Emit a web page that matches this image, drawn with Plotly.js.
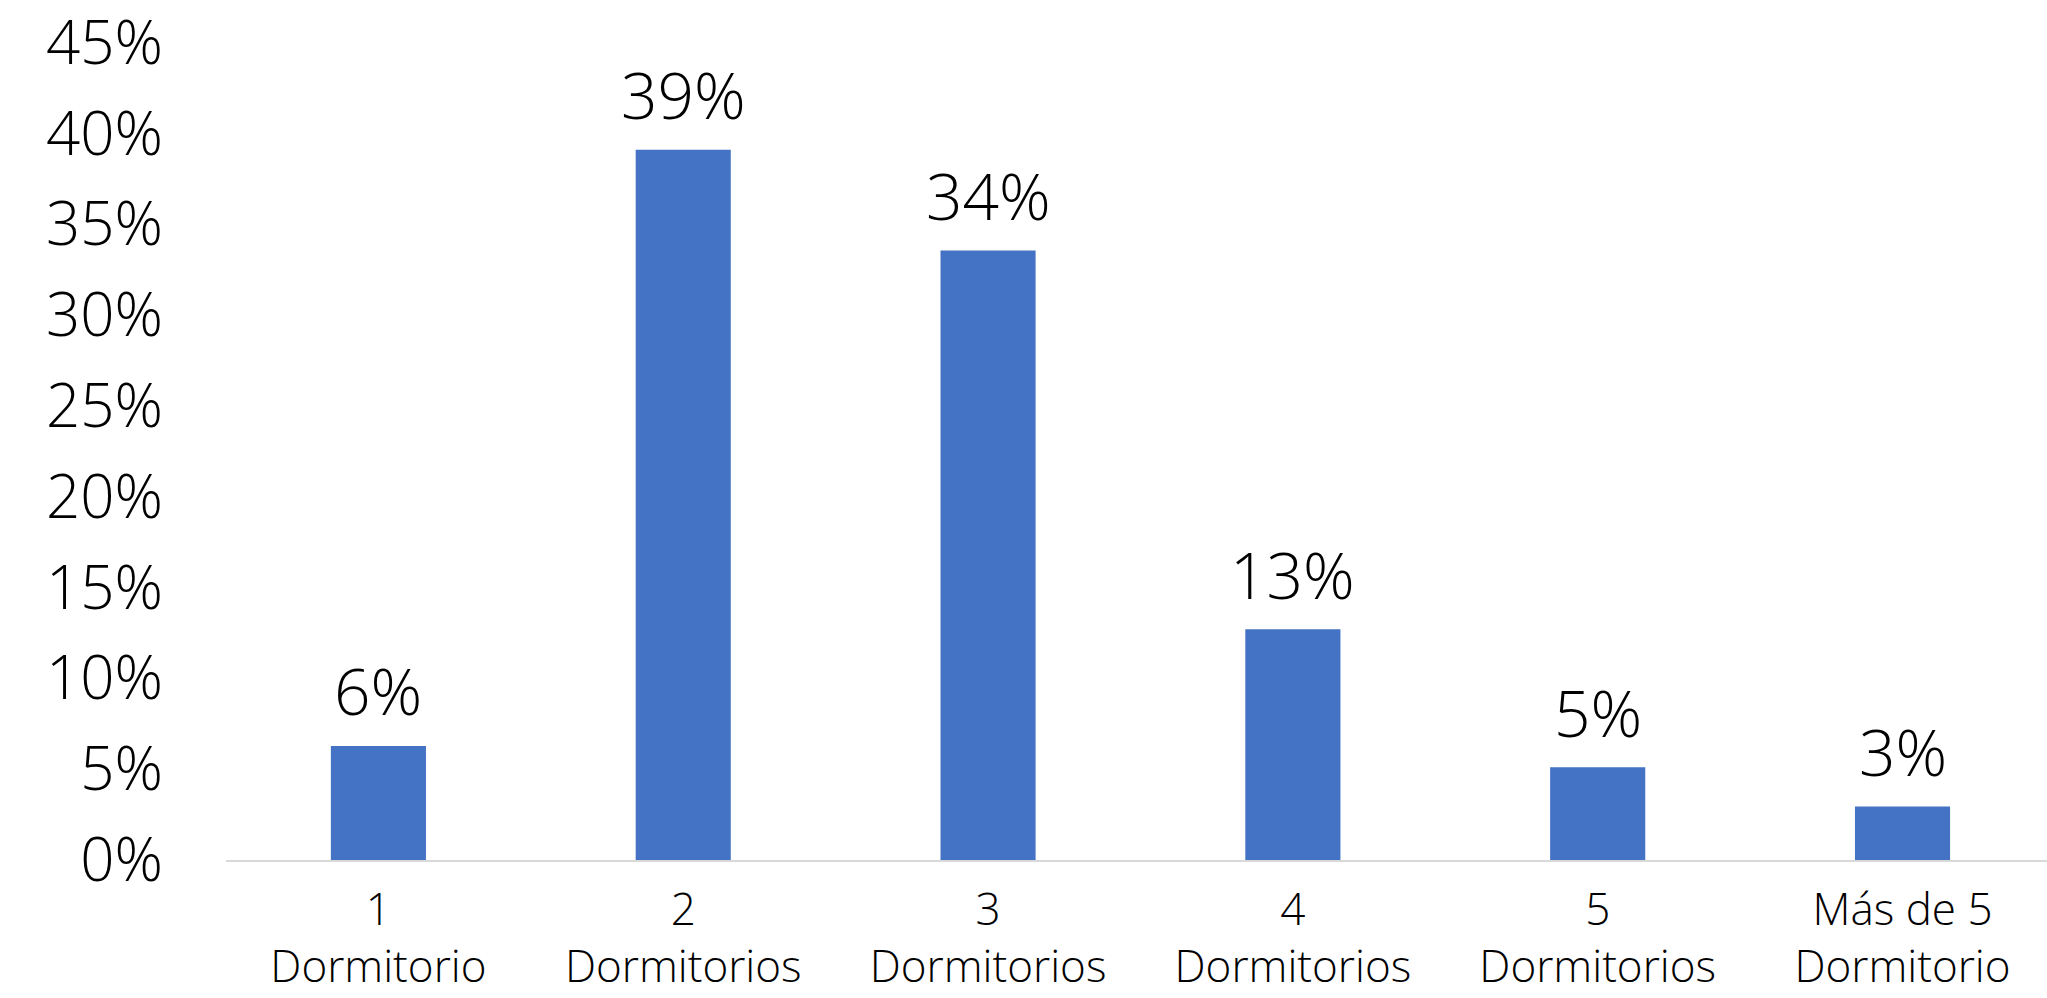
<!DOCTYPE html>
<html>
<head>
<meta charset="utf-8">
<script src="https://cdn.plot.ly/plotly-3.0.1.min.js"></script>
<style>html,body{margin:0;padding:0;background:#fff;}#chart{width:2047px;height:998px;}</style>
</head>
<body>
<div id="chart"></div>
<script>
const categories = ["1<br>Dormitorio", "2<br>Dormitorios", "3<br>Dormitorios", "4<br>Dormitorios", "5<br>Dormitorios", "Más de 5<br>Dormitorio"];
const values = [6.28, 39.12, 33.57, 12.71, 5.11, 2.94];
const valueLabels = ["6%", "39%", "34%", "13%", "5%", "3%"];
const yTickVals = [0, 5, 10, 15, 20, 25, 30, 35, 40, 45];
const yTickText = ["0%", "5%", "10%", "15%", "20%", "25%", "30%", "35%", "40%", "45%"];

const FONT = "Open Sans, Lato, sans-serif";

const trace = {
  type: "bar",
  x: categories.map((c, i) => i),
  y: values,
  marker: {color: "#4472C4"},
  width: 0.312,
  hoverinfo: "skip",
  cliponaxis: false
};

const annotations = values.map((v, i) => ({
  x: i, y: v, xref: "x", yref: "y",
  text: valueLabels[i], showarrow: false,
  yanchor: "middle", yshift: 55,
  font: {family: FONT, size: 64, color: "#000", weight: 300}
}));

const layout = {
  width: 2047, height: 998,
  margin: {l: 226, r: 0, t: 42, b: 138, pad: 0},
  paper_bgcolor: "#fff", plot_bgcolor: "#fff",
  showlegend: false,
  xaxis: {
    range: [-0.5, 5.474],
    tickvals: categories.map((c, i) => i),
    ticktext: categories,
    showgrid: false, zeroline: false,
    showline: true, linecolor: "#d9d9d9", linewidth: 2,
    ticks: "", ticklabelstandoff: 10,
    ticklabeloverflow: "allow",
    tickfont: {family: FONT, size: 44, color: "#000", weight: 300},
    fixedrange: true
  },
  yaxis: {
    range: [0, 45.05],
    tickvals: yTickVals, ticktext: yTickText,
    showgrid: false, zeroline: false, showline: false,
    ticks: "", ticklabelstandoff: 62,
    ticklabeloverflow: "allow",
    tickfont: {family: FONT, size: 60, color: "#000", weight: 300},
    fixedrange: true
  },
  annotations: annotations
};

Plotly.newPlot("chart", [trace], layout, {displayModeBar: false, staticPlot: true});
</script>
</body>
</html>
